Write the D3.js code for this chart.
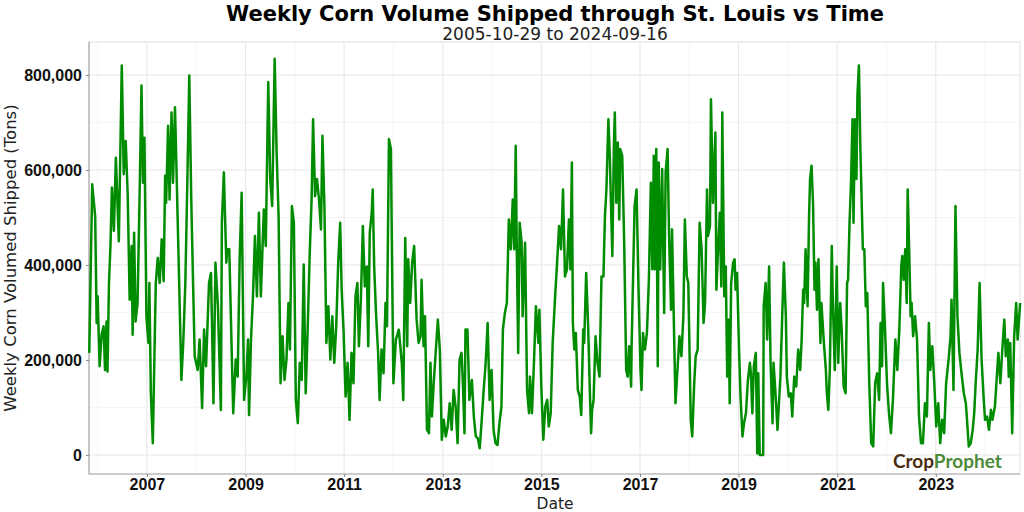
<!DOCTYPE html>
<html><head><meta charset="utf-8">
<script src="https://cdn.jsdelivr.net/npm/d3@7"></script>
<style>body{margin:0;background:#fff}svg{font-family:"DejaVu Sans",sans-serif}</style>
</head><body><svg id="c" width="1024" height="512"></svg>
<script>
const title = "Weekly Corn Volume Shipped through St. Louis vs Time";
const subtitle = "2005-10-29 to 2024-09-16";
const xLabel = "Date";
const yLabel = "Weekly Corn Volumed Shipped (Tons)";
const yTicks = [0, 200000, 400000, 600000, 800000];
const xTickYears = [2007, 2009, 2011, 2013, 2015, 2017, 2019, 2021, 2023];
// decimal year, thousand tons
const years = [2005.83,2005.89,2005.95,2005.98,2006.00,2006.04,2006.08,2006.12,2006.15,2006.18,2006.20,2006.23,2006.26,2006.29,2006.33,2006.37,2006.43,2006.49,2006.53,2006.57,2006.61,2006.65,2006.69,2006.71,2006.74,2006.77,2006.81,2006.85,2006.89,2006.92,2006.95,2006.99,
2007.03,2007.05,2007.08,2007.12,2007.18,2007.22,2007.26,2007.30,2007.34,2007.37,2007.39,2007.43,2007.46,2007.50,2007.53,2007.57,2007.61,2007.65,2007.70,2007.74,2007.78,2007.82,2007.86,2007.90,2007.94,2007.97,
2008.03,2008.07,2008.12,2008.16,2008.20,2008.26,2008.30,2008.35,2008.39,2008.44,2008.50,2008.52,2008.56,2008.61,2008.63,2008.67,2008.71,2008.75,2008.80,2008.84,2008.88,2008.92,2008.97,
2009.02,2009.05,2009.07,2009.11,2009.15,2009.19,2009.23,2009.27,2009.31,2009.37,2009.41,2009.46,2009.50,2009.54,2009.59,2009.63,2009.67,2009.71,2009.75,2009.79,2009.83,2009.87,2009.90,2009.94,2009.98,
2010.02,2010.06,2010.10,2010.14,2010.18,2010.22,2010.26,2010.30,2010.34,2010.37,2010.41,2010.45,2010.49,2010.53,2010.56,2010.60,2010.64,2010.68,2010.72,2010.76,2010.80,2010.84,2010.88,2010.92,2010.95,2010.99,
2011.03,2011.07,2011.11,2011.15,2011.19,2011.23,2011.27,2011.30,2011.34,2011.38,2011.42,2011.46,2011.49,2011.52,2011.56,2011.58,2011.61,2011.65,2011.69,2011.72,2011.76,2011.80,2011.84,2011.87,2011.91,2011.95,2011.97,
2012.00,2012.05,2012.11,2012.17,2012.20,2012.24,2012.28,2012.30,2012.34,2012.38,2012.42,2012.47,2012.51,2012.55,2012.57,2012.61,2012.64,2012.68,2012.72,2012.75,2012.78,2012.82,2012.86,2012.90,2012.94,2012.98,
2013.02,2013.06,2013.10,2013.14,2013.18,2013.22,2013.26,2013.30,2013.34,2013.38,2013.41,2013.44,2013.46,2013.50,2013.54,2013.59,2013.63,2013.67,2013.71,2013.75,2013.79,2013.83,2013.87,2013.91,2013.95,2013.99,
2014.03,2014.07,2014.11,2014.15,2014.19,2014.22,2014.26,2014.30,2014.34,2014.38,2014.42,2014.45,2014.48,2014.50,2014.53,2014.56,2014.60,2014.62,2014.67,2014.71,2014.75,2014.77,2014.81,2014.85,2014.89,2014.94,2014.96,
2015.00,2015.04,2015.08,2015.12,2015.15,2015.19,2015.23,2015.28,2015.32,2015.36,2015.40,2015.44,2015.48,2015.52,2015.56,2015.59,2015.62,2015.64,2015.67,2015.70,2015.74,2015.78,2015.81,2015.85,2015.87,2015.91,2015.95,2015.98,
2016.01,2016.03,2016.06,2016.10,2016.14,2016.18,2016.22,2016.26,2016.29,2016.32,2016.36,2016.39,2016.41,2016.44,2016.47,2016.49,2016.52,2016.55,2016.58,2016.60,2016.64,2016.68,2016.72,2016.75,2016.78,2016.82,2016.83,2016.89,2016.93,2016.97,
2017.01,2017.03,2017.06,2017.10,2017.14,2017.18,2017.22,2017.25,2017.28,2017.30,2017.33,2017.36,2017.38,2017.41,2017.45,2017.49,2017.52,2017.56,2017.59,2017.63,2017.65,2017.69,2017.72,2017.76,2017.80,2017.84,2017.88,2017.91,2017.95,2017.98,
2018.03,2018.06,2018.10,2018.13,2018.17,2018.21,2018.25,2018.29,2018.32,2018.36,2018.38,2018.42,2018.44,2018.48,2018.53,2018.55,2018.59,2018.62,2018.65,2018.67,2018.71,2018.74,2018.77,2018.80,2018.82,2018.85,2018.89,2018.92,2018.94,2018.97,
2019.01,2019.04,2019.08,2019.11,2019.15,2019.19,2019.23,2019.25,2019.28,2019.31,2019.35,2019.38,2019.40,2019.43,2019.50,2019.51,2019.55,2019.58,2019.62,2019.65,2019.69,2019.71,2019.75,2019.79,2019.85,2019.89,2019.92,2019.96,2019.98,
2020.02,2020.06,2020.09,2020.13,2020.17,2020.21,2020.25,2020.28,2020.31,2020.33,2020.36,2020.40,2020.43,2020.45,2020.48,2020.51,2020.54,2020.56,2020.59,2020.62,2020.66,2020.68,2020.73,2020.77,2020.79,2020.82,2020.85,2020.89,2020.91,2020.95,2020.99,
2021.02,2021.06,2021.09,2021.13,2021.17,2021.20,2021.22,2021.25,2021.28,2021.31,2021.33,2021.36,2021.39,2021.41,2021.44,2021.47,2021.49,2021.52,2021.55,2021.58,2021.61,2021.65,2021.69,2021.73,2021.77,2021.81,2021.85,2021.88,2021.91,2021.93,2021.97,
2022.01,2022.05,2022.09,2022.13,2022.18,2022.22,2022.26,2022.30,2022.32,2022.35,2022.38,2022.41,2022.43,2022.46,2022.49,2022.51,2022.54,2022.58,2022.62,2022.66,2022.70,2022.74,2022.78,2022.82,2022.86,2022.89,2022.93,2022.97,
2023.01,2023.05,2023.09,2023.13,2023.17,2023.21,2023.26,2023.30,2023.32,2023.36,2023.40,2023.44,2023.48,2023.53,2023.57,2023.61,2023.63,2023.67,2023.71,2023.75,2023.78,2023.81,2023.85,2023.89,2023.93,2023.97,
2024.00,2024.04,2024.08,2024.12,2024.15,2024.20,2024.23,2024.27,2024.31,2024.35,2024.39,2024.42,2024.46,2024.48,2024.51,2024.55,2024.59,2024.63,2024.66,2024.71];
const volumes = [215,570,503,278,334,187,253,271,179,281,176,362,440,563,472,626,450,820,591,661,549,327,440,253,468,281,320,538,778,573,668,292,
236,362,130,25,362,415,362,454,366,588,531,693,538,721,573,732,559,383,158,243,362,573,799,538,348,208,
179,243,99,264,187,362,383,109,405,313,95,489,595,405,433,433,257,88,201,165,412,552,116,
172,243,84,243,334,461,334,510,334,517,440,785,580,524,834,637,503,151,250,158,201,320,222,524,489,
116,67,194,158,401,130,264,419,538,707,545,581,538,475,672,524,236,313,201,292,194,271,405,489,348,257,
123,194,74,215,151,334,362,229,327,482,355,397,229,468,510,559,397,292,215,116,222,172,320,271,665,644,433,
151,243,264,194,116,457,229,412,320,405,440,285,236,250,369,229,292,53,46,194,81,158,222,285,222,32,
74,39,60,109,53,137,102,25,201,215,144,46,264,264,116,158,81,39,35,14,74,137,194,278,116,179,
53,25,21,67,102,264,299,320,496,433,538,433,651,447,215,489,447,292,447,137,88,165,88,194,313,236,306,
144,32,102,116,60,88,236,334,405,482,433,559,376,391,496,391,616,278,222,257,137,123,84,264,236,383,271,151,
46,95,116,250,194,165,376,376,503,559,707,623,538,419,644,721,531,658,496,644,630,447,179,165,229,144,229,524,559,348,
179,137,257,222,257,369,573,391,630,391,644,187,616,391,602,299,595,644,461,306,475,264,109,179,250,208,292,496,376,362,
74,39,151,208,222,489,433,278,320,559,461,482,749,531,679,348,447,510,355,721,334,397,165,285,109,362,405,412,348,383,
222,123,39,67,88,158,194,172,88,187,215,3,172,0,0,313,362,243,397,194,67,194,130,53,165,306,405,292,165,
123,130,81,165,144,222,179,243,348,320,433,313,503,581,609,531,348,405,306,412,236,320,236,179,130,95,179,440,327,179,397,
194,320,264,144,130,362,369,489,573,707,489,707,581,757,820,644,559,433,433,313,341,151,25,18,151,172,116,278,187,362,264,
151,88,46,116,243,179,264,397,419,369,433,320,559,433,292,320,250,292,243,81,25,25,109,81,278,179,229,151,
60,109,25,74,46,151,201,250,327,137,524,292,215,165,130,109,81,18,25,53,88,151,222,362,201,123,
74,81,53,95,74,102,151,215,151,222,285,208,243,165,236,46,250,320,243,320];

const data = years.map((y, i) => {
  const yr = Math.floor(y);
  const start = new Date(yr, 0, 1), end = new Date(yr + 1, 0, 1);
  return { date: new Date(+start + (y - yr) * (end - start)), value: volumes[i] * 1000 };
});

const svg = d3.select("#c");
const L = 89, R = 1020, T = 42, B = 474;
const x = d3.scaleTime().domain([new Date(2005, 9, 29), new Date(2024, 8, 16)]).range([L, R]);
const y = d3.scaleLinear().domain([0, 800000]).range([455, 75]);

const minorYears = d3.range(2006, 2025, 2);
svg.append("g").selectAll("line").data(minorYears).join("line")
  .attr("x1", d => x(new Date(d, 0, 1))).attr("x2", d => x(new Date(d, 0, 1)))
  .attr("y1", T).attr("y2", B).attr("stroke", "#f2f2f2").attr("stroke-width", 0.8);
svg.append("g").selectAll("line").data(d3.range(100000, 900000, 200000)).join("line")
  .attr("x1", L).attr("x2", R).attr("y1", d => y(d)).attr("y2", d => y(d))
  .attr("stroke", "#f2f2f2").attr("stroke-width", 0.8);
svg.append("g").selectAll("line").data(xTickYears).join("line")
  .attr("x1", d => x(new Date(d, 0, 1))).attr("x2", d => x(new Date(d, 0, 1)))
  .attr("y1", T).attr("y2", B).attr("stroke", "#e6e6e6").attr("stroke-width", 1);
svg.append("g").selectAll("line").data(yTicks).join("line")
  .attr("x1", L).attr("x2", R).attr("y1", d => y(d)).attr("y2", d => y(d))
  .attr("stroke", "#e6e6e6").attr("stroke-width", 1);

svg.append("rect").attr("x", L).attr("y", T).attr("width", R - L).attr("height", B - T)
  .attr("fill", "none").attr("stroke", "#e0e0e0").attr("stroke-width", 1);
svg.append("path").attr("d", `M${L},${T}V${B}H${R}`).attr("fill", "none").attr("stroke", "#aaa").attr("stroke-width", 1.2);

svg.append("path").datum(data)
  .attr("d", d3.line().x(d => x(d.date)).y(d => y(d.value)))
  .attr("fill", "none").attr("stroke", "#008c00").attr("stroke-width", 2.5).attr("stroke-linejoin", "round");

const ya = svg.append("g").attr("transform", `translate(${L},0)`)
  .call(d3.axisLeft(y).tickValues(yTicks).tickFormat(d3.format(",")).tickSize(3).tickPadding(4));
ya.select(".domain").remove();
ya.selectAll("text").attr("font-size", 16).attr("font-weight", "bold").attr("fill", "#111");
ya.selectAll("line").attr("stroke", "#888");
const xa = svg.append("g").attr("transform", `translate(0,${B})`)
  .call(d3.axisBottom(x).tickValues(xTickYears.map(d => new Date(d, 0, 1))).tickFormat(d3.timeFormat("%Y")).tickSize(3).tickPadding(2));
xa.select(".domain").remove();
xa.selectAll("text").attr("font-size", 16).attr("font-weight", "bold").attr("fill", "#111");
xa.selectAll("line").attr("stroke", "#888");

svg.append("text").attr("x", 555).attr("y", 21).attr("text-anchor", "middle")
  .attr("font-size", 21).attr("font-weight", "bold").text(title);
svg.append("text").attr("x", 555).attr("y", 40).attr("text-anchor", "middle")
  .attr("font-size", 17).attr("fill", "#222").text(subtitle);
svg.append("text").attr("x", 555).attr("y", 509).attr("text-anchor", "middle")
  .attr("font-size", 15.5).attr("fill", "#222").text(xLabel);
svg.append("text").attr("transform", "translate(16,258) rotate(-90)").attr("text-anchor", "middle")
  .attr("font-size", 16.5).attr("fill", "#222").text(yLabel);

const logo = svg.append("text").attr("x", 893).attr("y", 468).attr("font-size", 19)
  .attr("font-family", "Lato, 'Open Sans', sans-serif").attr("font-weight", "bold");
logo.append("tspan").attr("fill", "#4a2c12").text("Crop");
logo.append("tspan").attr("fill", "#4d8a3a").text("Prophet");
</script></body></html>
